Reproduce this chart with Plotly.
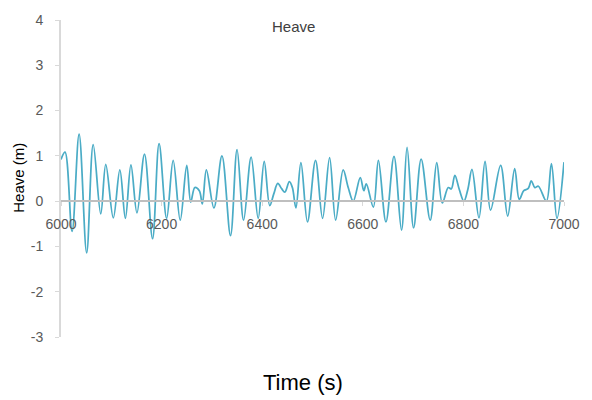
import plotly.graph_objects as go

# Heave time series (turning points and shoulders)
time_s = [6000, 6008, 6022, 6036, 6051, 6064, 6079, 6089, 6104, 6117, 6128, 6139,
          6151, 6166, 6182, 6195, 6210, 6223, 6237, 6250, 6258, 6266, 6275, 6281,
          6289, 6304, 6320, 6337, 6350, 6363, 6378, 6392, 6404, 6415, 6423, 6431,
          6439, 6445, 6454, 6460, 6467, 6477, 6490, 6506, 6520, 6534, 6546, 6561,
          6571, 6581, 6595, 6602, 6607, 6621, 6631, 6646, 6662, 6677, 6688, 6701,
          6716, 6734, 6747, 6758, 6770, 6776, 6783, 6792, 6801, 6809, 6817, 6831,
          6843, 6854, 6874, 6888, 6902, 6911, 6920, 6929, 6935, 6942, 6949, 6965,
          6975, 6986, 7000]
heave_m = [0.92, 1.08, -0.67, 1.48, -1.14, 1.25, -0.28, 0.81, -0.37, 0.69, -0.38, 0.80,
           -0.26, 1.04, -0.83, 1.27, -0.38, 0.90, -0.42, 0.79, -0.02, 0.30, 0.23, -0.06,
           0.69, -0.15, 1.00, -0.76, 1.14, -0.42, 0.97, -0.38, 0.88, -0.10, 0.16, 0.39,
           0.27, 0.20, 0.43, 0.30, -0.15, 0.85, -0.46, 0.90, -0.38, 0.96, -0.42, 0.69,
           0.30, 0.00, 0.52, 0.23, 0.38, -0.13, 0.90, -0.46, 0.99, -0.64, 1.19, -0.59,
           0.93, -0.42, 0.85, -0.04, 0.30, 0.27, 0.57, 0.25, 0.00, 0.27, 0.70, -0.37,
           0.88, -0.20, 0.79, -0.33, 0.72, 0.04, 0.23, 0.28, 0.45, 0.30, 0.33, 0.00,
           0.83, -0.38, 0.86]

x_ticks = [6000, 6200, 6400, 6600, 6800, 7000]
y_ticks = [-3, -2, -1, 0, 1, 2, 3, 4]
y_tick_text = ["-3", "-2", "-1", "0", "1", "2", "3", "4"]

FONT = "Liberation Sans, Arial, sans-serif"

fig = go.Figure()
fig.add_trace(go.Scatter(
    x=time_s, y=heave_m, mode="lines",
    line=dict(color="#4BACC6", width=1.75, shape="spline", smoothing=1.0),
    hoverinfo="x+y", showlegend=False,
))

fig.update_layout(
    width=592, height=400,
    margin=dict(l=61, r=19, t=14, b=63),
    paper_bgcolor="white", plot_bgcolor="white",
    font=dict(family=FONT, color="#595959"),
    xaxis=dict(
        range=[6000, 7000], anchor="free", position=3 / 7,
        showline=True, linecolor="#bfbfbf", linewidth=1.5,
        ticks="outside", ticklen=4, tickcolor="#d9d9d9",
        tickvals=x_ticks, ticktext=[str(v) for v in x_ticks],
        tickfont=dict(size=14, color="#595959", family=FONT),
        ticklabelstandoff=6,
        showgrid=False, zeroline=False,
    ),
    yaxis=dict(
        range=[-3, 4],
        showline=True, linecolor="#d9d9d9", linewidth=2,
        ticks="outside", ticklen=4, tickcolor="#d9d9d9",
        tickvals=y_ticks, ticktext=y_tick_text,
        tickfont=dict(size=14, color="#595959", family=FONT),
        ticklabelstandoff=9,
        showgrid=False, zeroline=False,
    ),
    annotations=[
        dict(text="Heave", xref="paper", yref="paper", x=0.462, y=0.981,
             xanchor="center", yanchor="middle", showarrow=False,
             font=dict(size=15, color="#404040", family=FONT)),
        dict(text="Heave (m)", xref="paper", yref="paper", x=-0.084, y=0.5016,
             xanchor="center", yanchor="middle", showarrow=False, textangle=-90,
             font=dict(size=15, color="#000000", family=FONT)),
        dict(text="Time (s)", xref="paper", yref="paper", x=0.482, y=-0.142,
             xanchor="center", yanchor="middle", showarrow=False,
             font=dict(size=22, color="#000000", family=FONT)),
    ],
)

fig.write_html("out.html")
